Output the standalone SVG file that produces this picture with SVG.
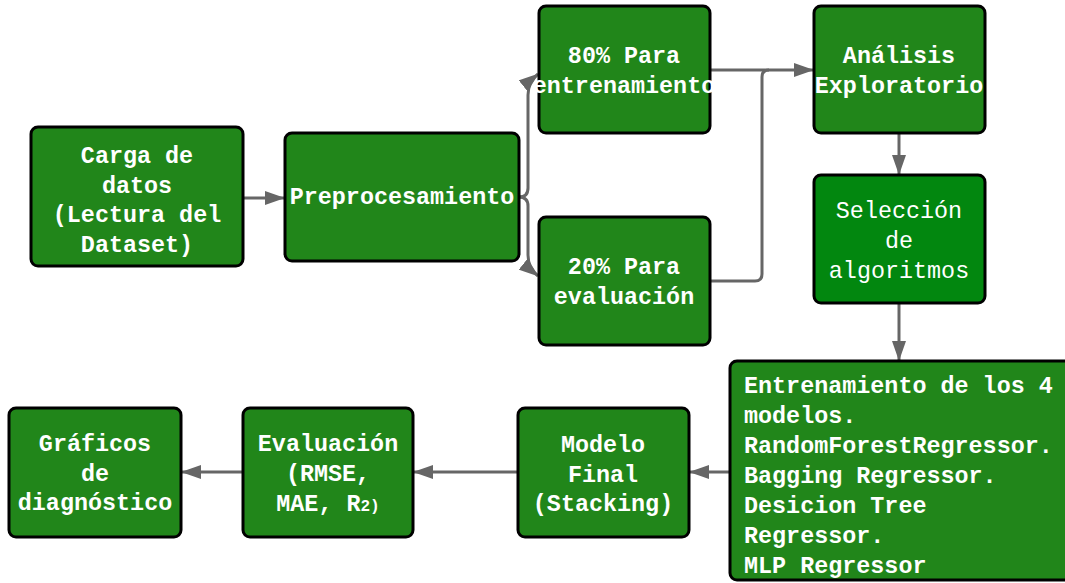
<svg xmlns="http://www.w3.org/2000/svg" width="1065" height="583" viewBox="0 0 1065 583">
  <style>
    .box { fill: #21861a; stroke: #000; stroke-width: 3; }
    .box.alt { fill: #02870f; }
    .lbl { font-family: "Liberation Mono", "DejaVu Sans Mono", monospace; font-size: 23.4px; font-weight: bold; fill: #fff; text-anchor: middle; }
    .lbl.thin { font-weight: normal; }
    .lbl.left { text-anchor: start; }
    .edge { fill: none; stroke: #666; stroke-width: 3; }
  </style>
  <defs>
    <marker id="arrow" viewBox="0 0 20 14" refX="19" refY="7" markerWidth="20" markerHeight="14" markerUnits="userSpaceOnUse" orient="auto">
      <path d="M0,0 L20,7 L0,14 Z" fill="#666"/>
    </marker>
  </defs>
  <rect width="1065" height="583" fill="#fff"/>

  <g id="connectors">
    <path class="edge" d="M243,198 H284" marker-end="url(#arrow)"/>
    <path class="edge" d="M519,197 Q528,197 528,188 V95 Q528,82 538,74" marker-end="url(#arrow)"/>
    <path class="edge" d="M519,197 Q528,197 528,206 V255 Q528,268 538,276" marker-end="url(#arrow)"/>
    <path class="edge" d="M710,70 H813" marker-end="url(#arrow)"/>
    <path class="edge" d="M710,281 H755 Q762,281 762,274 V77 Q762,70 769,70"/>
    <path class="edge" d="M899,134 V174" marker-end="url(#arrow)"/>
    <path class="edge" d="M899,303 V360" marker-end="url(#arrow)"/>
    <path class="edge" d="M730,472 H690" marker-end="url(#arrow)"/>
    <path class="edge" d="M518,472 H414" marker-end="url(#arrow)"/>
    <path class="edge" d="M243,472 H182" marker-end="url(#arrow)"/>
  </g>

  <g id="carga">
    <rect class="box" x="31" y="127" width="212" height="139" rx="7"/>
    <text class="lbl" x="137" y="163">Carga de</text>
    <text class="lbl" x="137" y="193">datos</text>
    <text class="lbl" x="137" y="222">(Lectura del</text>
    <text class="lbl" x="137" y="252">Dataset)</text>
  </g>

  <g id="preprocesamiento">
    <rect class="box" x="285" y="133" width="234" height="128" rx="7"/>
    <text class="lbl" x="402" y="204">Preprocesamiento</text>
  </g>

  <g id="entrenamiento80">
    <rect class="box" x="539" y="6" width="171" height="127" rx="7"/>
    <text class="lbl" x="624" y="63">80% Para</text>
    <text class="lbl" x="624" y="93">entrenamiento</text>
  </g>

  <g id="evaluacion20">
    <rect class="box" x="539" y="217" width="171" height="128" rx="7"/>
    <text class="lbl" x="624" y="274">20% Para</text>
    <text class="lbl" x="624" y="304">evaluación</text>
  </g>

  <g id="analisis">
    <rect class="box" x="814" y="6" width="171" height="127" rx="7"/>
    <text class="lbl" x="899" y="63">Análisis</text>
    <text class="lbl" x="899" y="93">Exploratorio</text>
  </g>

  <g id="seleccion">
    <rect class="box alt" x="814" y="175" width="171" height="128" rx="7"/>
    <text class="lbl thin" x="899" y="218">Selección</text>
    <text class="lbl thin" x="899" y="248">de</text>
    <text class="lbl thin" x="899" y="278">algoritmos</text>
  </g>

  <g id="modelos">
    <rect class="box" x="730" y="361" width="350" height="219" rx="7"/>
    <text class="lbl left" x="744" y="393">Entrenamiento de los 4</text>
    <text class="lbl left" x="744" y="423">modelos.</text>
    <text class="lbl left" x="744" y="453">RandomForestRegressor.</text>
    <text class="lbl left" x="744" y="483">Bagging Regressor.</text>
    <text class="lbl left" x="744" y="513">Desicion Tree</text>
    <text class="lbl left" x="744" y="543">Regressor.</text>
    <text class="lbl left" x="744" y="573">MLP Regressor</text>
  </g>

  <g id="stacking">
    <rect class="box" x="518" y="408" width="171" height="129" rx="7"/>
    <text class="lbl" x="603" y="452">Modelo</text>
    <text class="lbl" x="603" y="482">Final</text>
    <text class="lbl" x="603" y="511">(Stacking)</text>
  </g>

  <g id="metricas">
    <rect class="box" x="243" y="408" width="170" height="129" rx="7"/>
    <text class="lbl" x="328" y="451">Evaluación</text>
    <text class="lbl" x="328" y="481">(RMSE,</text>
    <text class="lbl" x="328" y="511">MAE, R<tspan font-size="16">2)</tspan></text>
  </g>

  <g id="graficos">
    <rect class="box" x="9" y="408" width="172" height="129" rx="7"/>
    <text class="lbl" x="95" y="451">Gráficos</text>
    <text class="lbl" x="95" y="481">de</text>
    <text class="lbl" x="95" y="510">diagnóstico</text>
  </g>
</svg>
